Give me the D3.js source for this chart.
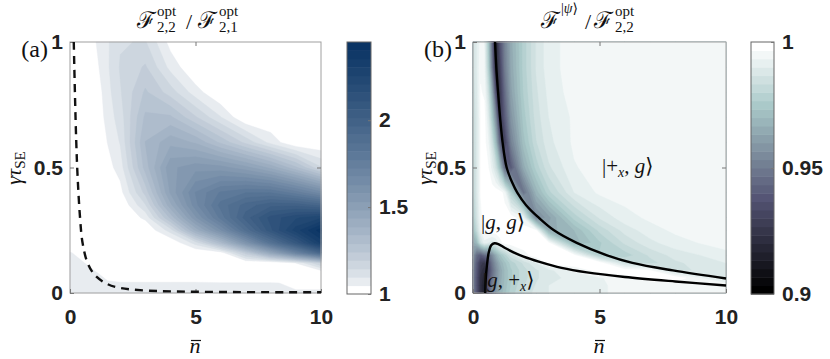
<!DOCTYPE html>
<html>
<head>
<meta charset="utf-8">
<script src="https://cdn.jsdelivr.net/npm/d3@7"></script>
<style>
  body { margin: 0; background: #fff; }
  svg { display: block; }
  .tick text { font-family: "Liberation Sans", Arial, sans-serif; font-weight: bold; font-size: 21px; fill: #222; }
  .tick line { stroke: #777; }
  .math { font-family: "Liberation Serif", "DejaVu Serif", serif; fill: #111; }
</style>
</head>
<body>
<div id="chart"></div>
<script>
  // ---- panel (a): F22opt / F21opt, grid ----
  const nbarA = [0, 0.5, 1, 1.5, 2, 3, 4, 5, 6, 7, 8, 9, 10];
  const gammaA = [0, 0.04, 0.08, 0.12, 0.16, 0.2, 0.25, 0.3, 0.35, 0.4, 0.5, 0.6, 0.7, 0.8, 0.9, 1.0];
  // rows follow gammaA (bottom to top), columns follow nbarA
  const ratioA = [
    [1.06, 1.06, 1.055, 1.055, 1.055, 1.055, 1.055, 1.055, 1.055, 1.055, 1.055, 1.05, 1.05],
    [1.06, 1.06, 1.055, 1.052, 1.052, 1.052, 1.052, 1.052, 1.05, 1.05, 1.05, 1.045, 1.045],
    [1.055, 1.055, 1.052, 1.035, 1.0, 1.0, 1.0, 1.0, 1.0, 1.0, 1.0, 1.0, 1.0],
    [1.055, 1.052, 1.03, 1.0, 1.0, 1.0, 1.0, 1.0, 1.0, 1.0, 1.0, 1.05, 1.2],
    [1.052, 1.03, 1.0, 1.0, 1.0, 1.0, 1.0, 1.0, 1.02, 1.22, 1.45, 1.7, 1.95],
    [1.0, 1.0, 1.0, 1.0, 1.0, 1.0, 1.0, 1.12, 1.32, 1.58, 1.85, 2.08, 2.32],
    [1.0, 1.0, 1.0, 1.0, 1.0, 1.0, 1.12, 1.4, 1.62, 1.88, 2.1, 2.28, 2.43],
    [1.0, 1.0, 1.0, 1.0, 1.0, 1.06, 1.3, 1.57, 1.79, 1.99, 2.13, 2.2, 2.25],
    [1.0, 1.0, 1.0, 1.0, 1.0, 1.14, 1.42, 1.66, 1.84, 1.94, 2.0, 2.0, 1.95],
    [1.0, 1.0, 1.0, 1.0, 1.03, 1.21, 1.49, 1.68, 1.78, 1.82, 1.82, 1.75, 1.65],
    [1.0, 1.0, 1.0, 1.03, 1.07, 1.31, 1.52, 1.56, 1.55, 1.5, 1.42, 1.3, 1.15],
    [1.0, 1.0, 1.0, 1.05, 1.1, 1.34, 1.42, 1.38, 1.28, 1.18, 1.08, 1.0, 1.0],
    [1.0, 1.0, 1.0, 1.07, 1.12, 1.3, 1.3, 1.2, 1.1, 1.0, 1.0, 1.0, 1.0],
    [1.0, 1.0, 1.01, 1.08, 1.14, 1.25, 1.17, 1.07, 1.0, 1.0, 1.0, 1.0, 1.0],
    [1.0, 1.0, 1.03, 1.09, 1.15, 1.2, 1.08, 1.0, 1.0, 1.0, 1.0, 1.0, 1.0],
    [1.0, 1.0, 1.045, 1.09, 1.14, 1.15, 1.03, 1.0, 1.0, 1.0, 1.0, 1.0, 1.0]
  ];
  const dashN = [0.15, 0.2, 0.25, 0.3, 0.4, 0.5, 0.7, 1.0, 1.5, 2, 3, 5, 10];
  const dashG = [1.0, 0.78, 0.6, 0.47, 0.3, 0.2, 0.12, 0.07, 0.035, 0.02, 0.01, 0.005, 0.003];

  // ---- panel (b): F|psi> / F22opt ----
  const nbarB = [0, 0.15, 0.3, 0.45, 0.6, 0.75, 0.9, 1.05, 1.25, 1.5, 2, 2.5, 3, 4, 5, 6, 7, 8, 10];
  const gammaB = [0, 0.03, 0.06, 0.09, 0.12, 0.15, 0.2, 0.25, 0.3, 0.4, 0.5, 0.6, 0.7, 0.8, 0.9, 1.0];
  const ratioB = [
    [0.952, 0.937, 0.922, 0.915, 0.94, 0.952, 0.96, 0.967, 0.972, 0.978, 0.984, 0.988, 0.99, 0.992, 0.993, 0.994, 0.995, 0.995, 0.996],
    [0.952, 0.937, 0.922, 0.915, 0.938, 0.95, 0.958, 0.965, 0.971, 0.977, 0.983, 0.987, 0.99, 0.992, 0.993, 0.994, 0.995, 0.995, 0.996],
    [0.952, 0.937, 0.922, 0.918, 0.935, 0.947, 0.956, 0.964, 0.97, 0.976, 0.982, 0.986, 0.989, 0.991, 0.993, 0.995, 0.998, 0.999, 0.988],
    [0.953, 0.938, 0.925, 0.92, 0.932, 0.945, 0.955, 0.963, 0.97, 0.976, 0.982, 0.986, 0.989, 0.994, 0.998, 0.999, 0.997, 0.986, 0.988],
    [0.955, 0.94, 0.928, 0.925, 0.935, 0.948, 0.958, 0.966, 0.972, 0.978, 0.984, 0.99, 0.998, 0.999, 0.999, 0.985, 0.982, 0.986, 0.99],
    [0.958, 0.945, 0.94, 0.945, 0.945, 0.955, 0.965, 0.972, 0.978, 0.985, 0.995, 0.999, 0.999, 0.998, 0.977, 0.978, 0.984, 0.988, 0.992],
    [0.965, 0.97, 0.985, 0.992, 0.99, 0.988, 0.99, 0.995, 0.998, 0.999, 0.999, 0.999, 0.997, 0.968, 0.976, 0.984, 0.989, 0.992, 0.995],
    [0.972, 0.982, 0.993, 0.998, 0.999, 0.999, 0.999, 0.999, 0.999, 0.999, 0.999, 0.997, 0.965, 0.97, 0.981, 0.988, 0.992, 0.994, 0.995],
    [0.976, 0.986, 0.995, 0.999, 0.999, 0.999, 0.999, 0.999, 0.999, 0.999, 0.993, 0.955, 0.962, 0.978, 0.987, 0.992, 0.994, 0.995, 0.995],
    [0.98, 0.988, 0.997, 0.999, 0.999, 0.999, 0.999, 0.999, 0.995, 0.978, 0.948, 0.968, 0.979, 0.99, 0.994, 0.995, 0.995, 0.995, 0.995],
    [0.981, 0.988, 0.997, 0.999, 0.997, 0.992, 0.985, 0.972, 0.945, 0.94, 0.965, 0.978, 0.986, 0.993, 0.995, 0.995, 0.995, 0.995, 0.995],
    [0.982, 0.988, 0.997, 0.998, 0.994, 0.985, 0.97, 0.945, 0.93, 0.952, 0.972, 0.983, 0.989, 0.994, 0.995, 0.995, 0.995, 0.995, 0.995],
    [0.983, 0.988, 0.997, 0.998, 0.99, 0.975, 0.955, 0.925, 0.94, 0.958, 0.975, 0.985, 0.99, 0.994, 0.995, 0.995, 0.995, 0.995, 0.995],
    [0.984, 0.989, 0.997, 0.996, 0.985, 0.965, 0.935, 0.925, 0.945, 0.962, 0.977, 0.986, 0.991, 0.995, 0.995, 0.995, 0.995, 0.995, 0.995],
    [0.985, 0.99, 0.996, 0.994, 0.978, 0.95, 0.918, 0.93, 0.95, 0.964, 0.978, 0.987, 0.992, 0.995, 0.995, 0.995, 0.995, 0.995, 0.995],
    [0.985, 0.99, 0.995, 0.993, 0.975, 0.945, 0.915, 0.935, 0.952, 0.965, 0.978, 0.987, 0.992, 0.995, 0.995, 0.995, 0.995, 0.995, 0.995]
  ];
  // the two black boundary curves in (b)
  const upperN = [0.87, 0.92, 0.99, 1.07, 1.17, 1.33, 1.55, 1.75, 2.1, 2.6, 3.2, 4.1, 5.3, 6.3, 7.9, 10];
  const upperG = [1.0, 0.9, 0.8, 0.7, 0.6, 0.5, 0.44, 0.4, 0.35, 0.3, 0.25, 0.2, 0.15, 0.12, 0.09, 0.058];
  const lowerN = [0.48, 0.5, 0.55, 0.62, 0.72, 0.85, 1.0, 1.25, 1.6, 2.0, 2.6, 3.5, 4.5, 6, 8, 10];
  const lowerG = [0.0, 0.05, 0.11, 0.16, 0.19, 0.198, 0.195, 0.18, 0.162, 0.145, 0.125, 0.1, 0.082, 0.064, 0.046, 0.03];

  const xTicks = [0, 5, 10];
  const yTicks = [0, 0.5, 1];
  const cbTicksA = [1, 1.5, 2];
  const cbTicksB = [0.9, 0.95, 1];
  const nLevels = 30;

  const svg = d3.select("#chart")
    .append("svg")
    .attr("width", 830)
    .attr("height", 359);

  function bone(t) {
    const hr = Math.min(1, t / 0.375),
      hg = Math.max(0, Math.min(1, (t - 0.375) / 0.375)),
      hb = Math.max(0, (t - 0.75) / 0.25);
    return d3.rgb(255 * (7 * t + hb) / 8, 255 * (7 * t + hg) / 8, 255 * (7 * t + hr) / 8);
  }
  const blueRamp = d3.interpolateRgb("#ffffff", "#0a3464");
  const blues = t => blueRamp(Math.pow(t, 0.7));

  function panel(box, nList, gList, grid, lo, hi, cmap) {
    const x = d3.scaleLinear().domain([0, 10]).range([box.left, box.right]);
    const y = d3.scaleLinear().domain([0, 1]).range([box.bottom, box.top]);
    const ix = d3.scaleLinear().domain(d3.range(nList.length)).range(nList).clamp(true);
    const iy = d3.scaleLinear().domain(d3.range(gList.length)).range(gList).clamp(true);
    const levels = d3.range(nLevels).map(i => lo + i * (hi - lo) / nLevels);
    const colorOf = i => cmap(i / (nLevels - 1));

    const toPx = d3.geoTransform({
      point(px, py) { this.stream.point(x(ix(px - 0.5)), y(iy(py - 0.5))); }
    });
    const path = d3.geoPath(toPx);
    const contours = d3.contours()
      .size([nList.length, gList.length])
      .thresholds(levels)(grid.flat());

    svg.append("g")
      .selectAll("path")
      .data(contours)
      .join("path")
      .attr("d", path)
      .attr("fill", (d, i) => colorOf(i))
      .attr("stroke", (d, i) => colorOf(i))
      .attr("stroke-width", 0.4);

    // frame + ticks
    svg.append("rect")
      .attr("x", box.left).attr("y", box.top)
      .attr("width", box.right - box.left).attr("height", box.bottom - box.top)
      .attr("fill", "none").attr("stroke", "#a0a0a0");

    svg.append("g")
      .attr("transform", `translate(0,${box.bottom})`)
      .call(d3.axisBottom(x).tickValues(xTicks).tickSizeInner(-4).tickSizeOuter(0).tickPadding(16));
    svg.append("g")
      .attr("transform", `translate(${box.left},0)`)
      .call(d3.axisLeft(y).tickValues(yTicks).tickFormat(d3.format("")).tickSizeInner(-4).tickSizeOuter(0).tickPadding(7));
    svg.append("g")
      .attr("transform", `translate(0,${box.top})`)
      .call(d3.axisTop(x).tickValues([5]).tickFormat("").tickSizeInner(-4).tickSizeOuter(0));
    svg.append("g")
      .attr("transform", `translate(${box.right},0)`)
      .call(d3.axisRight(y).tickValues([0.5]).tickFormat("").tickSizeInner(-4).tickSizeOuter(0));
    svg.selectAll(".domain").remove();

    return { x, y, levels, colorOf };
  }

  function colorbar(box, lo, hi, ticks, levels, colorOf) {
    const c = d3.scaleLinear().domain([lo, hi]).range([box.bottom, box.top]);
    const top = i => c(i === levels.length - 1 ? hi : levels[i + 1]);
    svg.append("g")
      .selectAll("rect")
      .data(levels)
      .join("rect")
      .attr("x", box.left)
      .attr("width", box.right - box.left)
      .attr("y", (d, i) => top(i))
      .attr("height", (d, i) => c(d) - top(i) + 0.5)
      .attr("fill", (d, i) => colorOf(i));
    svg.append("rect")
      .attr("x", box.left).attr("y", box.top)
      .attr("width", box.right - box.left).attr("height", box.bottom - box.top)
      .attr("fill", "none").attr("stroke", "#666");
    svg.append("g")
      .attr("transform", `translate(${box.right},0)`)
      .call(d3.axisRight(c).tickValues(ticks).tickFormat(d3.format("")).tickSizeInner(-3).tickSizeOuter(0).tickPadding(8))
      .select(".domain").remove();
  }

  const A = panel({ left: 70, right: 321, top: 42, bottom: 293 }, nbarA, gammaA, ratioA, 1, 2.45, blues);
  colorbar({ left: 347, right: 371, top: 42, bottom: 294 }, 1, 2.45, cbTicksA, A.levels, A.colorOf);

  const B = panel({ left: 473, right: 726, top: 42, bottom: 293 }, nbarB, gammaB, ratioB, 0.9, 1.0, bone);
  colorbar({ left: 751, right: 774, top: 42, bottom: 294 }, 0.9, 1.0, cbTicksB, B.levels, B.colorOf);

  // dashed curve in (a)
  svg.append("path")
    .datum(d3.zip(dashN, dashG))
    .attr("d", d3.line().x(d => A.x(d[0])).y(d => A.y(d[1])).curve(d3.curveCatmullRom))
    .attr("fill", "none")
    .attr("stroke", "#111")
    .attr("stroke-width", 2.4)
    .attr("stroke-dasharray", "8,6");

  // boundary curves in (b)
  [[upperN, upperG], [lowerN, lowerG]].forEach(([ns, gs]) => {
    svg.append("path")
      .datum(d3.zip(ns, gs))
      .attr("d", d3.line().x(d => B.x(d[0])).y(d => B.y(d[1])).curve(d3.curveCatmullRom))
      .attr("fill", "none")
      .attr("stroke", "#000")
      .attr("stroke-width", 2.4);
  });

  // ---- text ----
  function txt(x, y, s, size, opts = {}) {
    return svg.append("text")
      .attr("class", "math")
      .attr("x", x).attr("y", y)
      .attr("font-size", size)
      .attr("font-style", opts.italic ? "italic" : null)
      .attr("font-family", opts.family || null)
      .text(s);
  }
  const scriptF = "DejaVu Serif, DejaVu Sans, serif";

  // title (a)
  txt(137, 28, "ℱ", 23, { family: scriptF });
  txt(157, 16, "opt", 15);
  txt(157, 32, "2,2", 15);
  txt(186, 29, "/", 22);
  txt(198, 28, "ℱ", 23, { family: scriptF });
  txt(219, 16, "opt", 15);
  txt(219, 32, "2,1", 15);

  // title (b)
  txt(541, 28, "ℱ", 23, { family: scriptF });
  const sup = txt(561, 13, "|", 14);
  sup.append("tspan").attr("font-style", "italic").text("ψ");
  sup.append("tspan").attr("font-family", "DejaVu Sans").text("⟩");
  txt(585, 29, "/", 22);
  txt(594, 28, "ℱ", 23, { family: scriptF });
  txt(615, 16, "opt", 15);
  txt(615, 32, "2,2", 15);

  // panel labels
  txt(48, 57, "(a)", 24).attr("text-anchor", "end");
  txt(452, 57, "(b)", 24).attr("text-anchor", "end");

  // axis labels
  [21, 432].forEach(px => {
    const t = svg.append("text")
      .attr("class", "math")
      .attr("transform", `translate(${px},168) rotate(-90)`)
      .attr("text-anchor", "middle")
      .attr("font-size", 21);
    t.append("tspan").attr("font-style", "italic").text("γτ");
    t.append("tspan").attr("font-size", 15).attr("dy", 4).text("SE");
  });
  [195, 599].forEach(px => {
    txt(px, 353, "n", 22, { italic: true }).attr("text-anchor", "middle");
    svg.append("line")
      .attr("x1", px - 4).attr("x2", px + 6)
      .attr("y1", 340.5).attr("y2", 340.5)
      .attr("stroke", "#111").attr("stroke-width", 1.2);
  });

  // state labels in (b)
  function ket(x, y, parts) {
    const t = txt(x, y, "", 21);
    parts.forEach(p => {
      const s = t.append("tspan").text(p.s);
      if (p.i) s.attr("font-style", "italic");
      if (p.sub) s.attr("font-size", 14).attr("dy", 4);
      if (p.up) s.attr("dy", -4);
      if (p.f) s.attr("font-family", p.f);
    });
  }
  ket(602, 173, [{ s: "|+" }, { s: "x", i: true, sub: true }, { s: ", ", up: true }, { s: "g", i: true }, { s: "⟩", f: "DejaVu Sans" }]);
  ket(481, 229, [{ s: "|" }, { s: "g", i: true }, { s: ", " }, { s: "g", i: true }, { s: "⟩", f: "DejaVu Sans" }]);
  ket(483, 287, [{ s: "|" }, { s: "g", i: true }, { s: ", +" }, { s: "x", i: true, sub: true }, { s: "⟩", f: "DejaVu Sans", up: true }]);
</script>
</body>
</html>
